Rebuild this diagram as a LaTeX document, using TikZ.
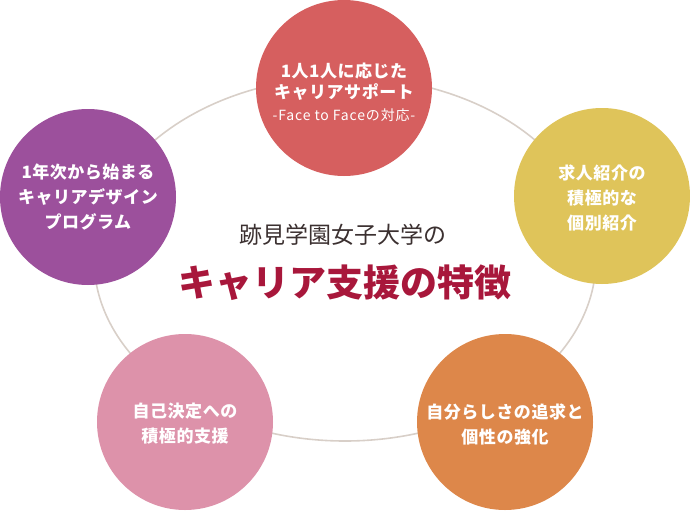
\documentclass[tikz,border=0pt]{standalone}
\usepackage{fontspec}
\setmainfont{Noto Sans CJK JP}
\definecolor{ringc}{HTML}{D8CFC8}
\definecolor{cred}{HTML}{D65F5F}
\definecolor{cpurple}{HTML}{9C509C}
\definecolor{cyellow}{HTML}{DFC45A}
\definecolor{cpink}{HTML}{DD92AA}
\definecolor{corange}{HTML}{DD874A}
\definecolor{titlec}{HTML}{A8173B}
\definecolor{subc}{HTML}{3B3030}
\tikzset{
  bubble/.style={circle, minimum size=176pt, inner sep=0pt, draw=none},
  blabel/.style={text=white, font=\bfseries\fontsize{17}{25}\selectfont\addfontfeatures{LetterSpace=3}, align=center, inner sep=0pt},
}
\begin{document}
\begin{tikzpicture}[x=1pt,y=-1pt]
\useasboundingbox (0,0) rectangle (690,511);
\coordinate (ringcenter) at (345,259);
\draw[line width=1.6pt, ringc] (ringcenter) ellipse [x radius=251, y radius=182];

\node[bubble, fill=cred] (support) at (344,88) {};
\node[bubble, fill=cpurple] (program) at (88,197) {};
\node[bubble, fill=cyellow] (intro) at (602,196) {};
\node[bubble, fill=cpink] (decision) at (185,422) {};
\node[bubble, fill=corange] (self) at (505,422) {};

\node[blabel, font=\bfseries\fontsize{17}{21}\selectfont\addfontfeatures{LetterSpace=3}] (supportl) at (344,82) {1人1人に応じた\\キャリアサポート};
\node[text=white, font=\fontsize{14}{15}\selectfont\addfontfeatures{LetterSpace=6}, inner sep=0pt] (supportsub) at (344,115) {-Face to Faceの対応-};
\node[blabel] (programl) at (program) {1年次から始まる\\キャリアデザイン\\プログラム};
\node[blabel] (introl) at (602,198) {求人紹介の\\積極的な\\個別紹介};
\node[blabel] (decisionl) at (185,424) {自己決定への\\積極的支援};
\node[blabel] (selfl) at (505,424) {自分らしさの追求と\\個性の強化};

\node[text=subc, font=\fontsize{23}{26}\selectfont, inner sep=0pt] (univ) at (343,235) {跡見学園女子大学の};
\node[text=titlec, font=\bfseries\fontsize{37}{40}\selectfont, inner sep=0pt] (title) at (345,283) {キャリア支援の特徴};
\end{tikzpicture}
\end{document}
